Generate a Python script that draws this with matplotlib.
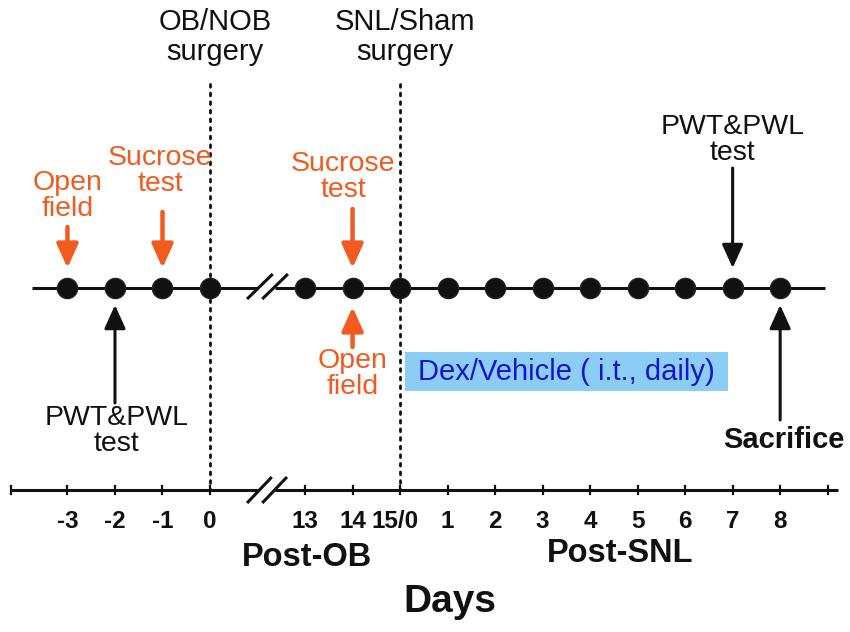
import matplotlib
matplotlib.use("Agg")
import matplotlib.pyplot as plt

plt.rcParams['font.family'] = ['Liberation Sans', 'DejaVu Sans']

# ---- data ----
dot_days = [-3, -2, -1, 0, 2, 3, 4, 5, 6, 7, 8, 9, 10, 11, 12]          # timeline positions with events
tick_pos = [-3, -2, -1, 0, 2, 3, 4, 5, 6, 7, 8, 9, 10, 11, 12, 13]      # bottom axis ticks
tick_labels = ['-3', '-2', '-1', '0', '13', '14', '15/0', '1', '2', '3',
               '4', '5', '6', '7', '8']
surgery_pos = [0, 4]
surgery_labels = ['OB/NOB\nsurgery', 'SNL/Sham\nsurgery']

orange_above_pos = [-3, -1, 3]
orange_above_lbl = ['Open\nfield', 'Sucrose\ntest', 'Sucrose\ntest']
orange_below_pos = [3]
orange_below_lbl = ['Open\nfield']
black_pos = [-2, 11, 12]
black_lbl = ['PWT&PWL\ntest', 'PWT&PWL\ntest', 'Sacrifice']
treat_start, treat_end = 4.1, 10.9
treat_label = 'Dex/Vehicle ( i.t., daily)'

ORANGE = '#F25A1F'
BLACK = '#111111'
FS = 20.5

fig = plt.figure(figsize=(8.5, 6.32), dpi=100)
ax = fig.add_axes([0, 0, 1, 1])
ax.set_xlim(-4.42, 13.47)
ax.set_ylim(632, 0)
ax.axis('off')

Y_TOP = 288
Y_BOT = 490

# top timeline with break
ax.plot([-3.75, 1.02], [Y_TOP, Y_TOP], color=BLACK, lw=2.2, solid_capstyle='butt', zorder=2)
ax.plot([1.36, 12.95], [Y_TOP, Y_TOP], color=BLACK, lw=2.2, solid_capstyle='butt', zorder=2)
for dx in (0.0, 0.32):
    ax.plot([0.78 + dx, 1.32 + dx], [299, 274], color=BLACK, lw=2.2, solid_capstyle='butt', zorder=2)

ax.plot(dot_days, [Y_TOP] * len(dot_days), 'o', ms=14.5, color=BLACK,
        markeredgecolor='#222222', zorder=4)

# bottom axis with break
ax.plot([-4.19, 1.0], [Y_BOT, Y_BOT], color=BLACK, lw=2.2, solid_capstyle='butt', zorder=2)
ax.plot([1.36, 13.22], [Y_BOT, Y_BOT], color=BLACK, lw=2.2, solid_capstyle='butt', zorder=2)
for dx in (0.0, 0.32):
    ax.plot([0.78 + dx, 1.3 + dx], [503, 477], color=BLACK, lw=2.2, solid_capstyle='butt', zorder=2)
for p in tick_pos + [-4.19]:
    ax.plot([p, p], [Y_BOT - 4, Y_BOT + 4], color=BLACK, lw=1.6, zorder=2)
for p, lbl in zip(tick_pos, tick_labels):
    ax.text(p - (0.1 if lbl == '15/0' else 0), 522, lbl, ha='center', va='center',
            fontsize=17.5, fontweight='bold', color=BLACK)

# surgery dotted lines & labels
for p, lbl in zip(surgery_pos, surgery_labels):
    ax.plot([p, p], [84, Y_BOT], color=BLACK, lw=2.0, linestyle=(0, (1, 2.1)),
            dash_capstyle='round', zorder=1)
    ax.text(p + 0.1, 37, lbl, ha='center', va='center', fontsize=FS + 0.5,
            linespacing=1.1, color=BLACK)

def arrow(x, y0, y1, color, lw):
    ax.annotate('', xy=(x, y1), xytext=(x, y0),
                arrowprops=dict(arrowstyle='-|>,head_length=0.6,head_width=0.27',
                                mutation_scale=24, color=color, lw=lw,
                                shrinkA=0, shrinkB=0), zorder=3)

# orange events above the line (down arrows)
above_base = [227, 212, 209]
above_text_y = [196, 171, 177]
above_text_dx = [0.0, -0.05, -0.2]
for p, lbl, b, ty, dx in zip(orange_above_pos, orange_above_lbl, above_base, above_text_y, above_text_dx):
    arrow(p, b, 268, ORANGE, 3.2)
    ax.text(p + dx, ty, lbl, ha='center', va='center', fontsize=FS, color=ORANGE, linespacing=1.0)

# orange events below the line (up arrows)
for p, lbl in zip(orange_below_pos, orange_below_lbl):
    arrow(p, 347, 307, ORANGE, 3.2)
    ax.text(p, 374, lbl, ha='center', va='center', fontsize=FS, color=ORANGE, linespacing=1.0)

# black events
arrow(black_pos[0], 403, 305, BLACK, 2.2)
ax.text(black_pos[0] + 0.03, 431, black_lbl[0], ha='center', va='center', fontsize=FS,
        color=BLACK, linespacing=1.0)
arrow(black_pos[1], 168, 268, BLACK, 2.2)
ax.text(black_pos[1], 140, black_lbl[1], ha='center', va='center', fontsize=FS,
        color=BLACK, linespacing=1.0)
arrow(black_pos[2], 420, 305, BLACK, 2.2)
ax.text(black_pos[2] + 0.08, 440, black_lbl[2], ha='center', va='center', fontsize=21,
        fontweight='bold', color=BLACK)

# treatment box
ax.fill_between([treat_start, treat_end], 352, 391, color='#8CCDF5', lw=0, zorder=0)
ax.text((treat_start + treat_end) / 2, 372, treat_label, ha='center', va='center',
        fontsize=21, color='#1515D0')

# period labels
ax.text(2.04, 557, 'Post-OB', ha='center', va='center', fontsize=23.5, fontweight='bold', color=BLACK)
ax.text(8.63, 554, 'Post-SNL', ha='center', va='center', fontsize=23.5, fontweight='bold', color=BLACK)
ax.text(5.05, 602, 'Days', ha='center', va='center', fontsize=28, fontweight='bold', color=BLACK)

fig.savefig('out.png', dpi=100)
